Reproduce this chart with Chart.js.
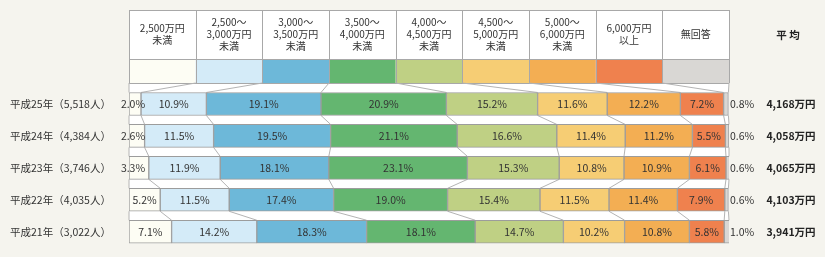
<!DOCTYPE html>
<html>
<head>
<meta charset="utf-8">
<script src="https://cdn.jsdelivr.net/npm/chart.js@4"></script>
<style>
  html, body { margin: 0; padding: 0; background: #f5f4ee; }
  #wrap { width: 825px; height: 257px; }
</style>
</head>
<body>
<div id="wrap"><canvas id="myChart" width="825" height="257"></canvas></div>
<script>
// rows (top to bottom)
const years = ["平成25年（5,518人）", "平成24年（4,384人）", "平成23年（3,746人）", "平成22年（4,035人）", "平成21年（3,022人）"]

// income brackets, header lines
const brackets = [
  ["2,500万円", "未満"],
  ["2,500～", "3,000万円", "未満"],
  ["3,000～", "3,500万円", "未満"],
  ["3,500～", "4,000万円", "未満"],
  ["4,000～", "4,500万円", "未満"],
  ["4,500～", "5,000万円", "未満"],
  ["5,000～", "6,000万円", "未満"],
  ["6,000万円", "以上"],
  ["無回答"],
]
const colors = ["#fdfdf4", "#d4ebf8", "#6db8d9", "#64b670", "#bfd084", "#f6cd74", "#f3ae53", "#ef814e", "#d9d7d4"]

// share per bracket (%)
const h25 = [2.0, 10.9, 19.1, 20.9, 15.2, 11.6, 12.2, 7.2, 0.8]
const h24 = [2.6, 11.5, 19.5, 21.1, 16.6, 11.4, 11.2, 5.5, 0.6]
const h23 = [3.3, 11.9, 18.1, 23.1, 15.3, 10.8, 10.9, 6.1, 0.6]
const h22 = [5.2, 11.5, 17.4, 19.0, 15.4, 11.5, 11.4, 7.9, 0.6]
const h21 = [7.1, 14.2, 18.3, 18.1, 14.7, 10.2, 10.8, 5.8, 1.0]
const rows = [h25, h24, h23, h22, h21]

// average income (万円)
const averages = [4168, 4058, 4065, 4103, 3941]

const FONT = "'Noto Sans CJK JP', 'Noto Sans', sans-serif"
const LINE = "#a8a8a8"

const datasets = brackets.map((b, d) => ({
  label: b.join(""),
  data: rows.map((r) => r[d]),
  backgroundColor: colors[d],
  borderColor: "#9c9c9c",
  borderWidth: 1,
  borderSkipped: false,
  barThickness: 23,
}))

const sheet = {
  id: "sheet",
  beforeDatasetsDraw(chart) {
    const ctx = chart.ctx
    const x = chart.scales.x
    const area = chart.chartArea
    const top = 10, mid = 59, bot = 83
    const last = chart.getDatasetMeta(0).data[rows.length - 1]
    const n = brackets.length
    const colX = (k) => x.getPixelForValue((k * 100) / n)

    ctx.save()
    // white sheet
    ctx.fillStyle = "#fff"
    ctx.fillRect(area.left, top, area.right - area.left, last.y + last.height / 2 - top)

    // header table
    brackets.forEach((lines, k) => {
      const x0 = colX(k), x1 = colX(k + 1)
      ctx.fillStyle = colors[k]
      ctx.fillRect(x0, mid, x1 - x0, bot - mid)
      ctx.fillStyle = "#333"
      ctx.font = "10px " + FONT
      ctx.textAlign = "center"
      ctx.textBaseline = "middle"
      const cy = 34.5 - ((lines.length - 1) * 12) / 2
      lines.forEach((t, j) => ctx.fillText(t, (x0 + x1) / 2, cy + j * 12))
    })
    ctx.strokeStyle = LINE
    ctx.lineWidth = 1
    ctx.beginPath()
    ;[top, mid, bot].forEach((yy) => {
      ctx.moveTo(area.left, yy + 0.5)
      ctx.lineTo(area.right, yy + 0.5)
    })
    for (let k = 0; k <= n; k++) {
      const xx = Math.round(colX(k)) + 0.5
      ctx.moveTo(xx, top)
      ctx.lineTo(xx, bot)
    }
    ctx.stroke()

    // connectors between boundaries
    const bound = (i, k) => {
      if (k === 0) return x.getPixelForValue(0)
      const el = chart.getDatasetMeta(k - 1).data[i]
      return Math.min(el.x, area.right)
    }
    const barTop = (i) => { const el = chart.getDatasetMeta(0).data[i]; return el.y - el.height / 2 }
    const barBot = (i) => { const el = chart.getDatasetMeta(0).data[i]; return el.y + el.height / 2 }
    ctx.strokeStyle = "#b4b4b4"
    ctx.beginPath()
    for (let k = 0; k <= n; k++) {
      ctx.moveTo(colX(k), bot)
      ctx.lineTo(bound(0, k), barTop(0))
      for (let i = 0; i < rows.length - 1; i++) {
        ctx.moveTo(bound(i, k), barBot(i))
        ctx.lineTo(bound(i + 1, k), barTop(i + 1))
      }
    }
    ctx.stroke()

    // 平均 header
    ctx.fillStyle = "#222"
    ctx.font = "bold 10.5px " + FONT
    ctx.textAlign = "center"
    ctx.fillText("平 均", 788, 35)
    ctx.restore()
  },
  afterDatasetsDraw(chart) {
    const ctx = chart.ctx
    const area = chart.chartArea
    ctx.save()
    ctx.font = "10.5px " + FONT
    ctx.fillStyle = "#333"
    ctx.textBaseline = "middle"
    chart.data.datasets.forEach((ds, d) => {
      chart.getDatasetMeta(d).data.forEach((el, i) => {
        const v = ds.data[i]
        const txt = v.toFixed(1) + "%"
        if (d === brackets.length - 1) {
          ctx.textAlign = "left"
          ctx.fillText(txt, area.right + 1, el.y)
        } else if (d === 0 && v < 4) {
          ctx.textAlign = "center"
          ctx.fillText(txt, area.left + 4, el.y)
        } else {
          ctx.textAlign = "center"
          ctx.fillText(txt, (el.x + el.base) / 2, el.y)
        }
      })
    })
    // averages
    ctx.font = "bold 10.5px " + FONT
    ctx.fillStyle = "#222"
    ctx.textAlign = "center"
    chart.getDatasetMeta(0).data.forEach((el, i) => {
      ctx.fillText(averages[i].toLocaleString("en-US") + "万円", 791, el.y)
    })
    ctx.restore()
  },
}

const ctx = document.getElementById("myChart").getContext("2d")
const myChart = new Chart(ctx, {
  type: "bar",
  data: { labels: years, datasets: datasets },
  options: {
    indexAxis: "y",
    responsive: false,
    animation: false,
    layout: { padding: { left: 10, right: 96, top: 88, bottom: 5 } },
    scales: {
      x: { stacked: true, min: 0, max: 100, display: false },
      y: {
        stacked: true,
        grid: { display: false },
        border: { display: false },
        afterFit: (s) => { s.width = 119 },
        ticks: {
          crossAlign: "far",
          color: "#333",
          font: { family: FONT, size: 10.5 },
        },
      },
    },
    plugins: {
      legend: { display: false },
      tooltip: { enabled: false },
    },
  },
  plugins: [sheet],
})
</script>
</body>
</html>
